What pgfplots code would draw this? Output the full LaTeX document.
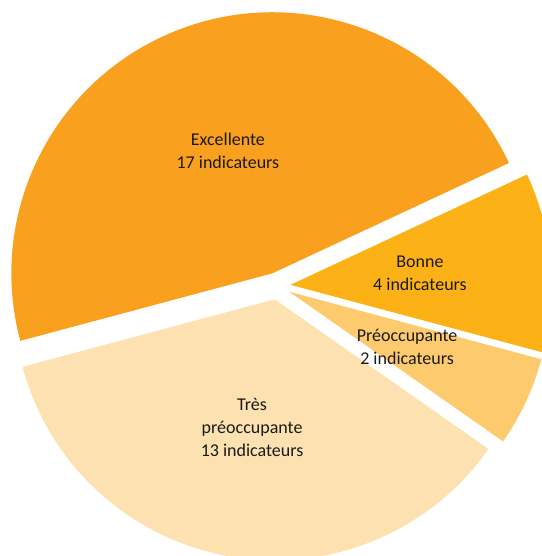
\documentclass[border=0pt]{standalone}
\usepackage{pgfplots}
\pgfplotsset{compat=1.18}
\usepackage{fontspec}
\setmainfont{Carlito}
\usetikzlibrary{calc}

\definecolor{cExc}{HTML}{F9A01E}
\definecolor{cBon}{HTML}{FCB217}
\definecolor{cPre}{HTML}{FECA6E}
\definecolor{cTre}{HTML}{FDE1B0}
\definecolor{txt}{HTML}{1A1A1A}

% centre of the pie in px (y downwards as negative), radius, explosion
\def\cx{277}
\def\cy{-286}
\def\rad{261}
\def\expl{13.5}
\def\total{36}

\begin{document}
\begin{tikzpicture}
\begin{axis}[
    x=1bp, y=1bp,
    xmin=0, xmax=542,
    ymin=-556, ymax=0,
    hide axis,
    clip=true,
]
\coordinate (bl) at (rel axis cs:0,0);
\coordinate (tr) at (rel axis cs:1,1);
\pgfplotsextra{
  \xdef\cur{-165}
  \foreach \v/\col/\lab in {
      13/cTre/{Très\\préoccupante\\13 indicateurs},
      2/cPre/{Préoccupante\\2 indicateurs},
      4/cBon/{Bonne\\4 indicateurs},
      17/cExc/{Excellente\\17 indicateurs}} {
    \pgfmathsetmacro\s{\cur}
    \pgfmathsetmacro\e{\cur+\v*360/\total}
    \pgfmathsetmacro\m{(\s+\e)/2}
    \coordinate (apex) at ($(axis cs:\cx,\cy)+(\m:\expl bp)$);
    \fill[\col] (apex) -- ++(\s:\rad bp)
        arc[start angle=\s, end angle=\e, radius=\rad bp] -- cycle;
    \node[align=center, text=txt,
          font=\fontsize{18bp}{22.7bp}\selectfont]
        at ($(apex)+(\m:130bp)$) {\lab};
    \xdef\cur{\e}
  }
}
\end{axis}
\pgfresetboundingbox
\path[use as bounding box] (bl) rectangle (tr);
\end{tikzpicture}
\end{document}
